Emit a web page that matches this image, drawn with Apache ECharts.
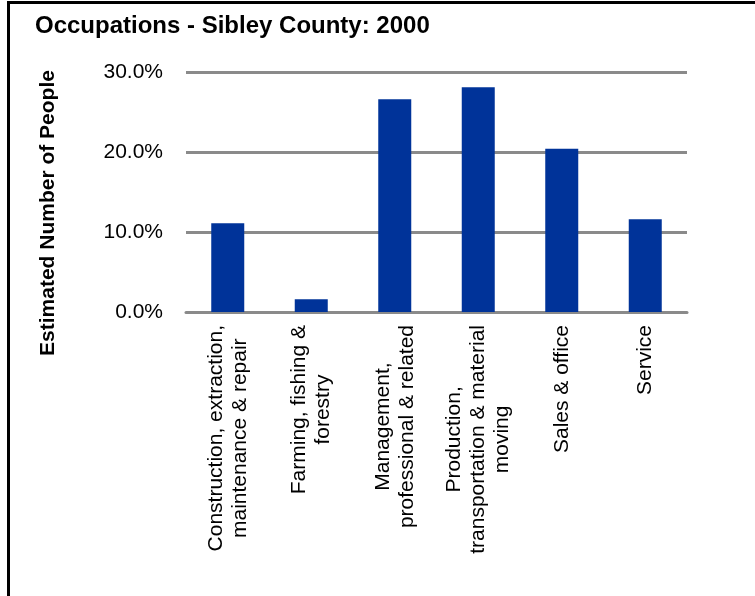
<!DOCTYPE html>
<html>
<head>
<meta charset="utf-8">
<script src="https://cdn.jsdelivr.net/npm/echarts@6/dist/echarts.min.js"></script>
<style>
html,body{margin:0;padding:0;background:#fff;}
#chart{width:755px;height:596px;}
</style>
</head>
<body>
<div id="chart"></div>
<script>
var titleText = 'Occupations - Sibley County: 2000';
var yAxisName = 'Estimated Number of People';
var categories = [
  'Construction, extraction,\nmaintenance & repair',
  'Farming, fishing &\nforestry',
  'Management,\nprofessional & related',
  'Production,\ntransportation & material\nmoving',
  'Sales & office',
  'Service'
];
var values = [11.1, 1.6, 26.6, 28.1, 20.4, 11.6];
var yTicks = [0, 10, 20, 30];

var FONT = '"Liberation Sans", Arial, Helvetica, sans-serif';
var chart = echarts.init(document.getElementById('chart'), null, {renderer: 'canvas'});
chart.setOption({
  animation: false,
  backgroundColor: '#fff',
  title: {
    text: titleText,
    left: 35, top: 14, padding: 0,
    textStyle: {fontFamily: FONT, fontSize: 24, fontWeight: 'bold', color: '#000'}
  },
  grid: {left: 186, right: 68, top: 72, bottom: 284, containLabel: false},
  xAxis: {
    type: 'category',
    data: categories,
    axisLine: {show: true, lineStyle: {color: '#8a8a8a', width: 3}},
    axisTick: {show: false},
    axisLabel: {
      interval: 0,
      rotate: 90,
      margin: 13,
      color: '#000',
      fontFamily: FONT,
      fontSize: 21,
      lineHeight: 24,
      formatter: function (v) {
        return v.split('\n').map(function (l) { return '{a|' + l + '}'; }).join('\n');
      },
      rich: {a: {align: 'center', fontFamily: FONT, fontSize: 21, lineHeight: 24, color: '#000'}}
    }
  },
  yAxis: {
    type: 'value',
    min: yTicks[0], max: yTicks[yTicks.length - 1], interval: 10,
    axisLine: {show: false},
    axisTick: {show: false},
    splitLine: {show: true, lineStyle: {color: '#8a8a8a', width: 3}},
    axisLabel: {
      margin: 23,
      color: '#000',
      fontFamily: FONT,
      fontSize: 21,
      formatter: function (v) { return v.toFixed(1) + '%'; }
    }
  },
  series: [{
    type: 'bar',
    data: values,
    barWidth: 33,
    itemStyle: {color: '#003399'}
  }],
  graphic: [
    {
      type: 'rect', silent: true, z: 100,
      shape: {x: 8.5, y: 2.5, width: 900, height: 800},
      style: {fill: null, stroke: '#000', lineWidth: 3}
    },
    {
      type: 'text', silent: true,
      x: 48, y: 213, rotation: Math.PI / 2,
      style: {
        text: yAxisName, fontFamily: FONT, fontSize: 21, fontWeight: 'bold',
        fill: '#000', align: 'center', verticalAlign: 'middle'
      }
    }
  ]
});
</script>
</body>
</html>
